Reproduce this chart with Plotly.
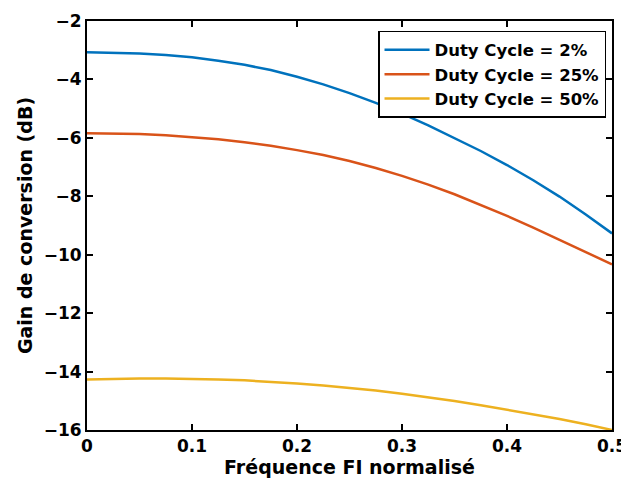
import plotly.graph_objects as go

freq = [0, 0.025, 0.05, 0.075, 0.1, 0.125, 0.15, 0.175, 0.2, 0.225, 0.25,
        0.275, 0.3, 0.325, 0.35, 0.375, 0.4, 0.425, 0.45, 0.475, 0.5]
gain_dc2 = [-3.07, -3.08, -3.11, -3.16, -3.24, -3.36, -3.50, -3.68, -3.91, -4.17, -4.47,
            -4.80, -5.17, -5.57, -6.00, -6.45, -6.93, -7.45, -8.01, -8.62, -9.27]
gain_dc25 = [-5.84, -5.85, -5.87, -5.91, -5.97, -6.05, -6.15, -6.27, -6.42, -6.59, -6.79,
             -7.03, -7.30, -7.60, -7.93, -8.29, -8.67, -9.07, -9.49, -9.91, -10.33]
gain_dc50 = [-14.27, -14.25, -14.24, -14.24, -14.25, -14.27, -14.30, -14.35, -14.41, -14.48, -14.56,
             -14.65, -14.76, -14.88, -15.01, -15.15, -15.30, -15.46, -15.62, -15.80, -16.0]
series_names = ["Duty Cycle = 2%", "Duty Cycle = 25%", "Duty Cycle = 50%"]
colors = ["#0072BD", "#D95319", "#EDB120"]
x_ticks = [0, 0.1, 0.2, 0.3, 0.4, 0.5]
y_ticks = [-16, -14, -12, -10, -8, -6, -4, -2]

FONT = "DejaVu Sans"

fig = go.Figure()
for name, vals, c in zip(series_names, [gain_dc2, gain_dc25, gain_dc50], colors):
    fig.add_trace(go.Scatter(x=freq, y=vals, mode="lines", name=name,
                             line=dict(color=c, width=2.5)))

axis_common = dict(showgrid=False, zeroline=False, showline=True, linecolor="black",
                   linewidth=2, mirror="ticks", ticks="inside", ticklen=6, tickwidth=1.5,
                   tickcolor="black", automargin=False,
                   tickfont=dict(family=FONT, size=17, color="black", weight="bold"))

fig.update_layout(
    width=621, height=481,
    margin=dict(l=79, r=17, t=13, b=59),
    paper_bgcolor="white", plot_bgcolor="white",
    font=dict(family=FONT, color="black"),
    showlegend=True,
    legend=dict(x=0.9886, y=0.9756, xanchor="right", yanchor="top",
                bgcolor="white", bordercolor="black", borderwidth=1.5,
                font=dict(family=FONT, size=16.5, color="black", weight="bold"),
                tracegroupgap=0, itemwidth=45),
    xaxis=dict(range=[0, 0.5], tickvals=x_ticks, ticktext=[str(v) for v in x_ticks],
               title=dict(text="Fréquence FI normalisé", standoff=2,
                          font=dict(family=FONT, size=19, color="black", weight="bold")),
               **axis_common),
    yaxis=dict(range=[-16, -2], tickvals=y_ticks,
               title=dict(text="Gain de conversion (dB)", standoff=6,
                          font=dict(family=FONT, size=19, color="black", weight="bold")),
               **axis_common),
)

fig.write_html("out.html")
